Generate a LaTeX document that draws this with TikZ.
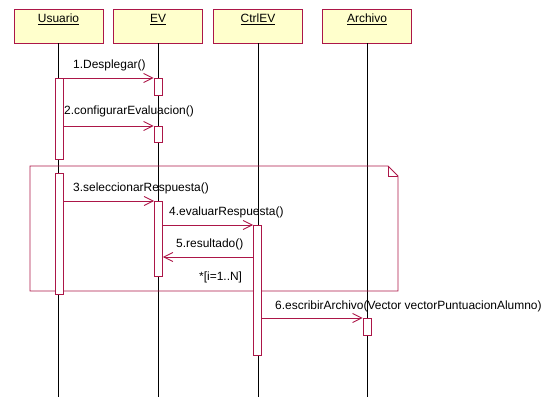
\documentclass[tikz,border=0pt]{standalone}
\usepackage{fontspec}
\setmainfont{Liberation Sans}
\usetikzlibrary{arrows.meta}
\definecolor{crim}{RGB}{172,22,72}
\definecolor{objfill}{RGB}{255,255,204}
\tikzset{
  obj/.style={draw=crim, fill=objfill, line width=0.9bp, minimum width=89bp, minimum height=34bp, inner sep=0},
  objname/.style={anchor=north, inner sep=0, yshift=-5.5bp},
  life/.style={draw=black, line width=0.8bp},
  act/.style={draw=crim, fill=white, line width=0.9bp, minimum width=8bp, inner sep=0, anchor=north},
  msg/.style={draw=crim, line width=0.9bp, -{Straight Barb[length=9bp,width=9bp,line width=0.9bp]}},
  mlabel/.style={anchor=west, inner sep=0},
  loopframe/.style={draw=crim, line width=0.9bp}
}
\begin{document}
\begin{tikzpicture}[x=1bp,y=-1bp,font=\fontsize{12}{14}\selectfont]
\useasboundingbox (0,0) rectangle (549,397);
\coordinate (bottom) at (0,397);

% objects
\node[obj, label={[objname]north:\underline{Usuario}}] (u) at (58.5,26) {};
\node[obj, label={[objname]north:\underline{EV}}] (ev) at (158,26) {};
\node[obj, label={[objname]north:\underline{CtrlEV}}] (c) at (258,26) {};
\node[obj, label={[objname]north:\underline{Archivo}}] (a) at (367,26) {};

% lifelines
\draw[life] (u.south) -- (u.south |- bottom);
\draw[life] (ev.south) -- (ev.south |- bottom);
\draw[life] (c.south) -- (c.south |- bottom);
\draw[life] (a.south) -- (a.south |- bottom);

% loop frame with folded corner
\coordinate (f1) at (30,166);
\coordinate (f2) at (388,166);
\coordinate (f3) at (398,176);
\coordinate (f4) at (398,291);
\coordinate (f5) at (30,291);
\coordinate (f6) at (388,176);
\draw[loopframe] (f1) -- (f2) -- (f3) -- (f4) -- (f5) -- cycle;
\draw[loopframe] (f2) -- (f6) -- (f3);
\node[mlabel] (cond) at (199,277) {*[i=1..N]};

% activations
\node[act, minimum height=81bp] (ua1) at (59,78) {};
\node[act, minimum height=17bp] (ev1) at (158,78) {};
\node[act, minimum height=16bp] (ev2) at (158,126) {};
\node[act, minimum height=121bp] (ua2) at (59,173) {};
\node[act, minimum height=75bp] (ev3) at (158.5,201) {};
\node[act, minimum height=130bp] (ca) at (257.5,225) {};
\node[act, minimum height=17bp] (ar) at (367,318) {};

% messages
\draw[msg] (ua1.north east) -- (ev1.north west);
\node[mlabel] (l1) at (73,65) {1.Desplegar()};

\draw[msg] (ua1.east |- ev2.north) -- (ev2.north west);
\node[mlabel] (l2) at (64,111) {2.configurarEvaluacion()};

\draw[msg] (ua2.east |- ev3.north) -- (ev3.north west);
\node[mlabel] (l3) at (73,188) {3.seleccionarRespuesta()};

\draw[msg] (ev3.east |- ca.north) -- (ca.north west);
\node[mlabel] (l4) at (169,212) {4.evaluarRespuesta()};

\coordinate (r5) at (0,257);
\draw[msg] (ca.west |- r5) -- (ev3.east |- r5);
\node[mlabel] (l5) at (176,244) {5.resultado()};

\draw[msg] (ca.east |- ar.north) -- (ar.north west);
\node[mlabel] (l6) at (275,306) {6.escribirArchivo(Vector vectorPuntuacionAlumno)};
\end{tikzpicture}
\end{document}
